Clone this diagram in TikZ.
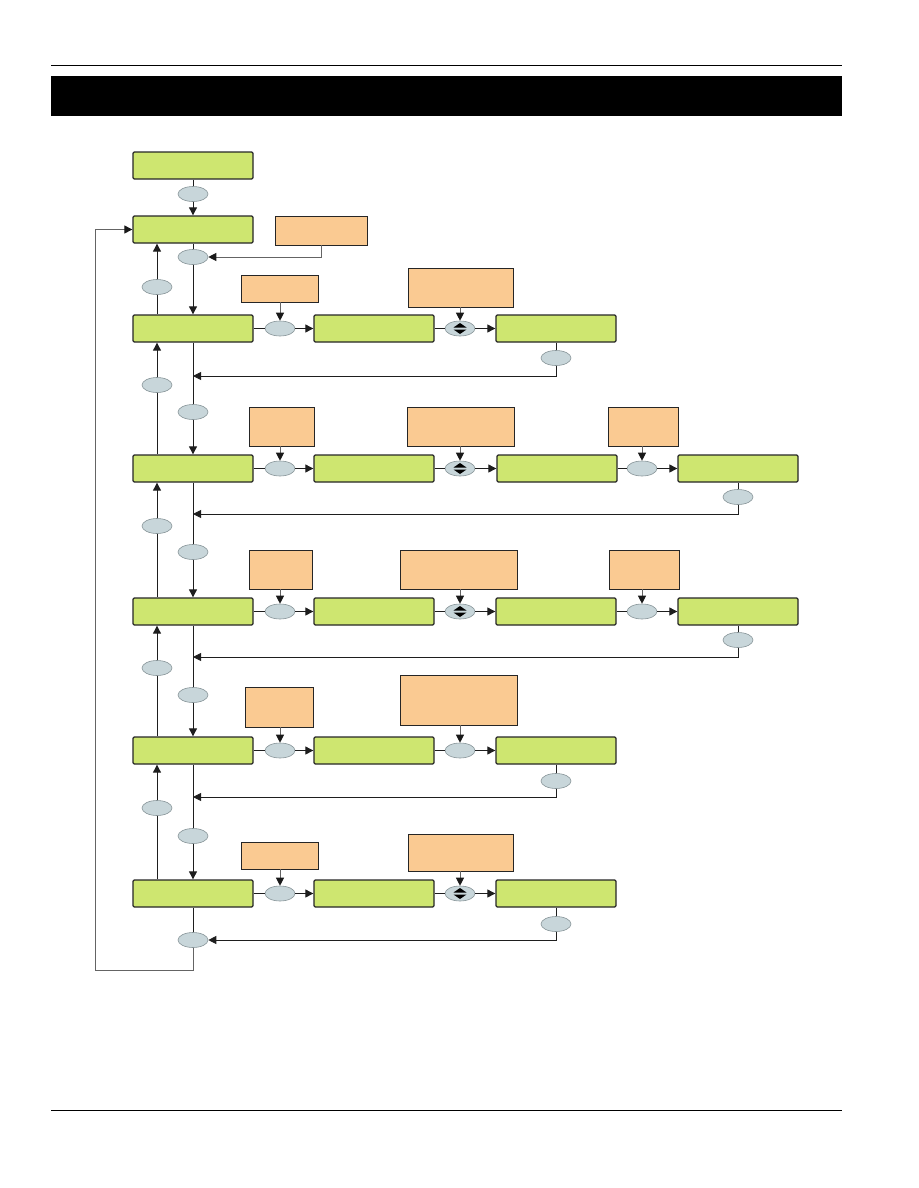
\documentclass[tikz,border=0pt]{standalone}
\usetikzlibrary{arrows.meta,shapes.geometric}
\definecolor{lcdgreen}{RGB}{206,230,112}
\definecolor{noteorange}{RGB}{250,202,146}
\definecolor{keyfill}{RGB}{200,214,218}
\definecolor{keyline}{RGB}{135,148,152}
\definecolor{wire}{RGB}{30,30,30}
\definecolor{graywire}{RGB}{100,100,100}
\begin{document}
\begin{tikzpicture}[x=1pt,y=-1pt,
  screen/.style={draw=black!85,line width=1.3pt,fill=lcdgreen,rounded corners=1.2pt,minimum width=120pt,minimum height=27pt,inner sep=0pt},
  note/.style={draw=black!85,line width=0.8pt,fill=noteorange,inner sep=0pt},
  key/.style={ellipse,draw=keyline,line width=0.6pt,fill=keyfill,minimum width=30pt,minimum height=15pt,inner sep=0pt},
  wireline/.style={draw=wire,line width=0.9pt},
  arr/.style={wireline,-{Triangle[length=8pt,width=8pt]}},
  gwire/.style={draw=graywire,line width=1pt},
  garr/.style={gwire,-{Triangle[length=8pt,width=8pt,fill=black!90,color=black!90]}}]
\useasboundingbox (0,0) rectangle (918,1188);
% header / footer
\draw[line width=1pt] (51,66) -- (842,66);
\fill[black] (51,76) rectangle (842,116);
\draw[line width=0.8pt] (51,1110) -- (842,1110);

% screens, left column
\node[screen] (L0) at (193,165.5) {};
\node[screen] (L1) at (193,229.5) {};
\node[screen] (L2) at (193,328.5) {};
\node[screen] (L3) at (193,468.5) {};
\node[screen] (L4) at (193,611.5) {};
\node[screen] (L5) at (193,750.5) {};
\node[screen] (L6) at (193,893.5) {};
% middle / right screens
\node[screen] (M2) at (374,328.5) {};
\node[screen] (R2) at (556,328.5) {};
\node[screen] (M3) at (374,468.5) {};
\node[screen] (R3) at (557,468.5) {};
\node[screen] (F3) at (738,468.5) {};
\node[screen] (M4) at (374,611.5) {};
\node[screen] (R4) at (556,611.5) {};
\node[screen] (F4) at (738,611.5) {};
\node[screen] (M5) at (374,750.5) {};
\node[screen] (R5) at (556,750.5) {};
\node[screen] (M6) at (374,893.5) {};
\node[screen] (R6) at (556,893.5) {};

% notes
\node[note,minimum width=92pt,minimum height=29pt] (o1) at (321,230.5) {};
\node[note,minimum width=77pt,minimum height=27pt] (o2a) at (279.5,288.5) {};
\node[note,minimum width=105pt,minimum height=39pt] (o2b) at (460.5,287.5) {};
\node[note,minimum width=65pt,minimum height=39pt] (o3a) at (281.5,426.5) {};
\node[note,minimum width=107pt,minimum height=39pt] (o3b) at (460.5,426.5) {};
\node[note,minimum width=70pt,minimum height=39pt] (o3c) at (643,426.5) {};
\node[note,minimum width=63pt,minimum height=39pt] (o4a) at (280.5,569.5) {};
\node[note,minimum width=117pt,minimum height=39pt] (o4b) at (458.5,569.5) {};
\node[note,minimum width=70pt,minimum height=39pt] (o4c) at (644,569.5) {};
\node[note,minimum width=68pt,minimum height=40pt] (o5a) at (279,707) {};
\node[note,minimum width=117pt,minimum height=50pt] (o5b) at (458.5,700) {};
\node[note,minimum width=77pt,minimum height=27pt] (o6a) at (279.5,855.5) {};
\node[note,minimum width=105pt,minimum height=37pt] (o6b) at (460.5,852.5) {};

% keys, down column
\node[key] (kd0) at (193,194) {};
\node[key] (kd1) at (193,257) {};
\node[key] (kd2) at (193,412) {};
\node[key] (kd3) at (193,552) {};
\node[key] (kd4) at (193,695) {};
\node[key] (kd5) at (193,836) {};
\node[key] (kd6) at (193,940) {};
% keys, up column
\node[key] (ku1) at (157,287) {};
\node[key] (ku2) at (157,385) {};
\node[key] (ku3) at (157,526) {};
\node[key] (ku4) at (157,668) {};
\node[key] (ku5) at (157,808) {};
% keys in rows
\node[key] (k2a) at (280,328.5) {};
\node[key] (k2b) at (460,328.5) {};
\node[key] (k2r) at (556,358) {};
\node[key] (k3a) at (280,468.5) {};
\node[key] (k3b) at (460,468.5) {};
\node[key] (k3c) at (642,468.5) {};
\node[key] (k3r) at (738,497) {};
\node[key] (k4a) at (280,611.5) {};
\node[key] (k4b) at (460,611.5) {};
\node[key] (k4c) at (642,611.5) {};
\node[key] (k4r) at (738,640) {};
\node[key] (k5a) at (280,750.5) {};
\node[key] (k5b) at (460,750.5) {};
\node[key] (k5r) at (556,781) {};
\node[key] (k6a) at (280,893.5) {};
\node[key] (k6b) at (460,893.5) {};
\node[key] (k6r) at (556,924) {};

% up/down symbols
\foreach \k in {k2b,k3b,k4b,k6b}{
  \fill[black,shift={(\k.center)}] (-6.5,-1) -- (6.5,-1) -- (0,-5.5) -- cycle;
  \fill[black,shift={(\k.center)}] (-6.5,1) -- (6.5,1) -- (0,5.5) -- cycle;
}

% merge points on the main column
\coordinate (m2) at (193,376);
\coordinate (m3) at (193,514);
\coordinate (m4) at (193,657);
\coordinate (m5) at (193,797);
\coordinate (lp1) at (193,970);
\coordinate (lp2) at (95,970);

% main down column
\draw[wireline] (L0.south) -- (kd0.north);
\draw[arr] (kd0.south) -- (L1.north);
\foreach \a/\k/\b in {L1/kd1/L2,L2/kd2/L3,L3/kd3/L4,L4/kd4/L5,L5/kd5/L6}{
  \draw[wireline] (\a.south) -- (\k.north);
  \draw[arr] (\k.south) -- (\b.north);
}
% up column
\foreach \a/\k/\b in {L2/ku1/L1,L3/ku2/L2,L4/ku3/L3,L5/ku4/L4,L6/ku5/L5}{
  \draw[wireline] (\k |- \a.north) -- (\k.south);
  \draw[arr] (\k.north) -- (\k |- \b.south);
}
% note to first key
\draw[garr] (o1.south) |- (kd1.east);

% row 2
\draw[wireline] (L2.east) -- (k2a.west);
\draw[arr] (k2a.east) -- (M2.west);
\draw[wireline] (M2.east) -- (k2b.west);
\draw[arr] (k2b.east) -- (R2.west);
\draw[wireline] (R2.south) -- (k2r.north);
\draw[arr] (k2r.south) |- (m2);
\draw[garr] (k2a |- o2a.south) -- (k2a.north);
\draw[garr] (k2b |- o2b.south) -- (k2b.north);

% row 3
\draw[wireline] (L3.east) -- (k3a.west);
\draw[arr] (k3a.east) -- (M3.west);
\draw[wireline] (M3.east) -- (k3b.west);
\draw[arr] (k3b.east) -- (R3.west);
\draw[wireline] (R3.east) -- (k3c.west);
\draw[arr] (k3c.east) -- (F3.west);
\draw[wireline] (F3.south) -- (k3r.north);
\draw[arr] (k3r.south) |- (m3);
\draw[garr] (k3a |- o3a.south) -- (k3a.north);
\draw[garr] (k3b |- o3b.south) -- (k3b.north);
\draw[garr] (k3c |- o3c.south) -- (k3c.north);

% row 4
\draw[wireline] (L4.east) -- (k4a.west);
\draw[arr] (k4a.east) -- (M4.west);
\draw[wireline] (M4.east) -- (k4b.west);
\draw[arr] (k4b.east) -- (R4.west);
\draw[wireline] (R4.east) -- (k4c.west);
\draw[arr] (k4c.east) -- (F4.west);
\draw[wireline] (F4.south) -- (k4r.north);
\draw[arr] (k4r.south) |- (m4);
\draw[garr] (k4a |- o4a.south) -- (k4a.north);
\draw[garr] (k4b |- o4b.south) -- (k4b.north);
\draw[garr] (k4c |- o4c.south) -- (k4c.north);

% row 5
\draw[wireline] (L5.east) -- (k5a.west);
\draw[arr] (k5a.east) -- (M5.west);
\draw[wireline] (M5.east) -- (k5b.west);
\draw[arr] (k5b.east) -- (R5.west);
\draw[wireline] (R5.south) -- (k5r.north);
\draw[arr] (k5r.south) |- (m5);
\draw[garr] (k5a |- o5a.south) -- (k5a.north);
\draw[garr] (k5b |- o5b.south) -- (k5b.north);

% row 6
\draw[wireline] (L6.east) -- (k6a.west);
\draw[arr] (k6a.east) -- (M6.west);
\draw[wireline] (M6.east) -- (k6b.west);
\draw[arr] (k6b.east) -- (R6.west);
\draw[wireline] (R6.south) -- (k6r.north);
\draw[arr] (k6r.south) |- (kd6.east);
\draw[garr] (k6a |- o6a.south) -- (k6a.north);
\draw[garr] (k6b |- o6b.south) -- (k6b.north);

% loop back
\draw[wireline] (L6.south) -- (kd6.north);
\draw[gwire] (kd6.south) -- (lp1) -- (lp2);
\draw[garr] (lp2) |- (L1.west);
\end{tikzpicture}
\end{document}
